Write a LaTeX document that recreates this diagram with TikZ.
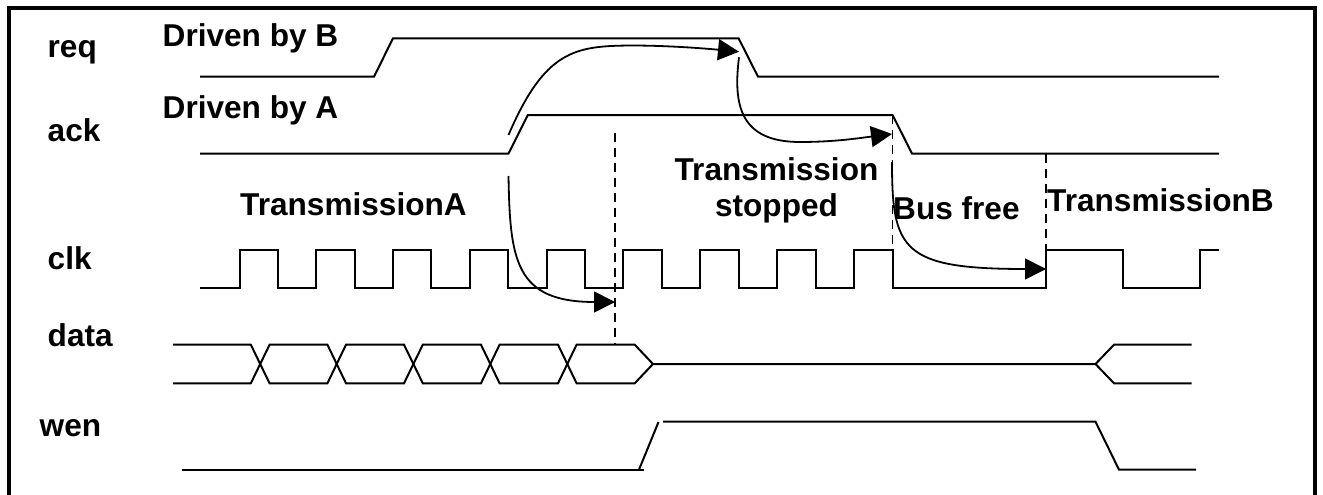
\documentclass[tikz,border=0pt]{standalone}
\usepackage{fontspec}
\setmainfont{Liberation Sans}
\usetikzlibrary{arrows.meta}
\tikzset{
  lbl/.style={font=\fontsize{31.6}{36}\selectfont\bfseries,anchor=base west,inner sep=0pt,text=black},
  lblc/.style={font=\fontsize{31.6}{36}\selectfont\bfseries,anchor=base,inner sep=0pt,text=black},
  sig/.style={line width=2pt,line join=miter,black},
  dashln/.style={line width=1.5pt,dash pattern=on 9pt off 6pt,black},
  arc/.style={line width=1.8pt,black,-{Triangle[length=21pt,width=21pt]}},
  framebox/.style={line width=4pt,black}
}
\begin{document}
\begin{tikzpicture}[x=1pt,y=-1pt]
\useasboundingbox (0,0) rectangle (1323,495);
\draw[framebox] (9,495) -- (9,8) -- (1315,8) -- (1315,495);
% labels
\node[lbl] (lreq) at (47.5,58) {req};
\node[lbl] (lack) at (47.5,141.7) {ack};
\node[lbl] (lclk) at (47.5,269) {clk};
\node[lbl] (ldata) at (47.5,346) {data};
\node[lbl] (lwen) at (39.5,436) {wen};
\node[lbl] (db) at (162.5,46.7) {Driven by B};
\node[lbl] (da) at (162.5,118.3) {Driven by A};
\node[lbl] (ta) at (240,215) {TransmissionA};
\node[lblc] (ts1) at (776.5,180) {Transmission};
\node[lblc] (ts2) at (776.5,216.7) {stopped};
\node[lbl] (bf) at (893,219.3) {Bus free};
\node[lbl] (tb) at (1047,211.7) {TransmissionB};
% req, ack
\draw[sig] (200,76.7) -- (374,76.7) -- (393,38.3) -- (738.6,38.3) -- (758,76.7) -- (1219,76.7);
\draw[sig] (200,153.7) -- (508.4,153.7) -- (527.8,115) -- (892.6,115) -- (912,153.7) -- (1219,153.7);
% clk
\draw[sig] (200,288) -- (239.5,288)
  -- (239.5,249.7) -- (277.8,249.7) -- (277.8,288) -- (316.2,288)
  -- (316.2,249.7) -- (354.6,249.7) -- (354.6,288) -- (393,288)
  -- (393,249.7) -- (431.4,249.7) -- (431.4,288) -- (469.8,288)
  -- (469.8,249.7) -- (508.2,249.7) -- (508.2,288) -- (546.7,288)
  -- (546.7,249.7) -- (585,249.7) -- (585,288) -- (623.3,288)
  -- (623.3,249.7) -- (661.7,249.7) -- (661.7,288) -- (700,288)
  -- (700,249.7) -- (738.6,249.7) -- (738.6,288) -- (777,288)
  -- (777,249.7) -- (815.6,249.7) -- (815.6,288) -- (854,288)
  -- (854,249.7) -- (892.6,249.7) -- (892.6,288) -- (1046,288)
  -- (1046,249.7) -- (1123,249.7) -- (1123,288) -- (1200,288)
  -- (1200,249.7) -- (1219,249.7);
% data
\draw[sig] (173,344.7) -- (250.8,344.7) -- (269.6,383.3) -- (327.4,383.3) -- (346,344.7) -- (404,344.7) -- (422.8,383.3) -- (481,383.3) -- (499.6,344.7) -- (558,344.7) -- (576.6,383.3) -- (634.7,383.3) -- (653,364) -- (1095.5,364) -- (1114,344.7) -- (1191.5,344.7);
\draw[sig] (173,383.3) -- (250.8,383.3) -- (269.6,344.7) -- (327.4,344.7) -- (346,383.3) -- (404,383.3) -- (422.8,344.7) -- (481,344.7) -- (499.6,383.3) -- (558,383.3) -- (576.6,344.7) -- (634.7,344.7) -- (653,364);
\draw[sig] (1095.5,364) -- (1114,383.3) -- (1191.5,383.3);
% wen
\draw[sig] (182,469.7) -- (644,469.7);
\draw[sig] (639,469.7) -- (658.5,422);
\draw[sig] (663,421.7) -- (1095.5,421.7) -- (1119,469.7) -- (1196,469.7);
% dashed
\coordinate (d1a) at (615,133); \coordinate (d1b) at (615,344.7);
\coordinate (d2a) at (892.6,115); \coordinate (d2b) at (892.6,288);
\coordinate (d3a) at (1046,153.7); \coordinate (d3b) at (1046,288);
\draw[dashln] (d1a) -- (d1b);
\draw[dashln] (d2a) -- (d2b);
\draw[dashln] (d3a) -- (d3b);
% arrows
\coordinate (a1s) at (508.5,135); \coordinate (a1e) at (739,51.7);
\coordinate (a2s) at (739,57.3); \coordinate (a2e) at (892,134);
\coordinate (a3s) at (508.5,176); \coordinate (a3e) at (615,302);
\coordinate (a4s) at (892,162); \coordinate (a4e) at (1046,269);
\draw[arc] (a1s) .. controls (545,50) and (575,46) .. (631,45.5) .. controls (665,45.5) and (700,48) .. (a1e);
\draw[arc] (a2s) .. controls (733,105) and (740,142) .. (800,142) .. controls (835,142) and (860,138) .. (a2e);
\draw[arc] (a3s) .. controls (510,260) and (515,302) .. (a3e);
\draw[arc] (a4s) .. controls (892,250) and (902,269) .. (a4e);
\end{tikzpicture}
\end{document}
